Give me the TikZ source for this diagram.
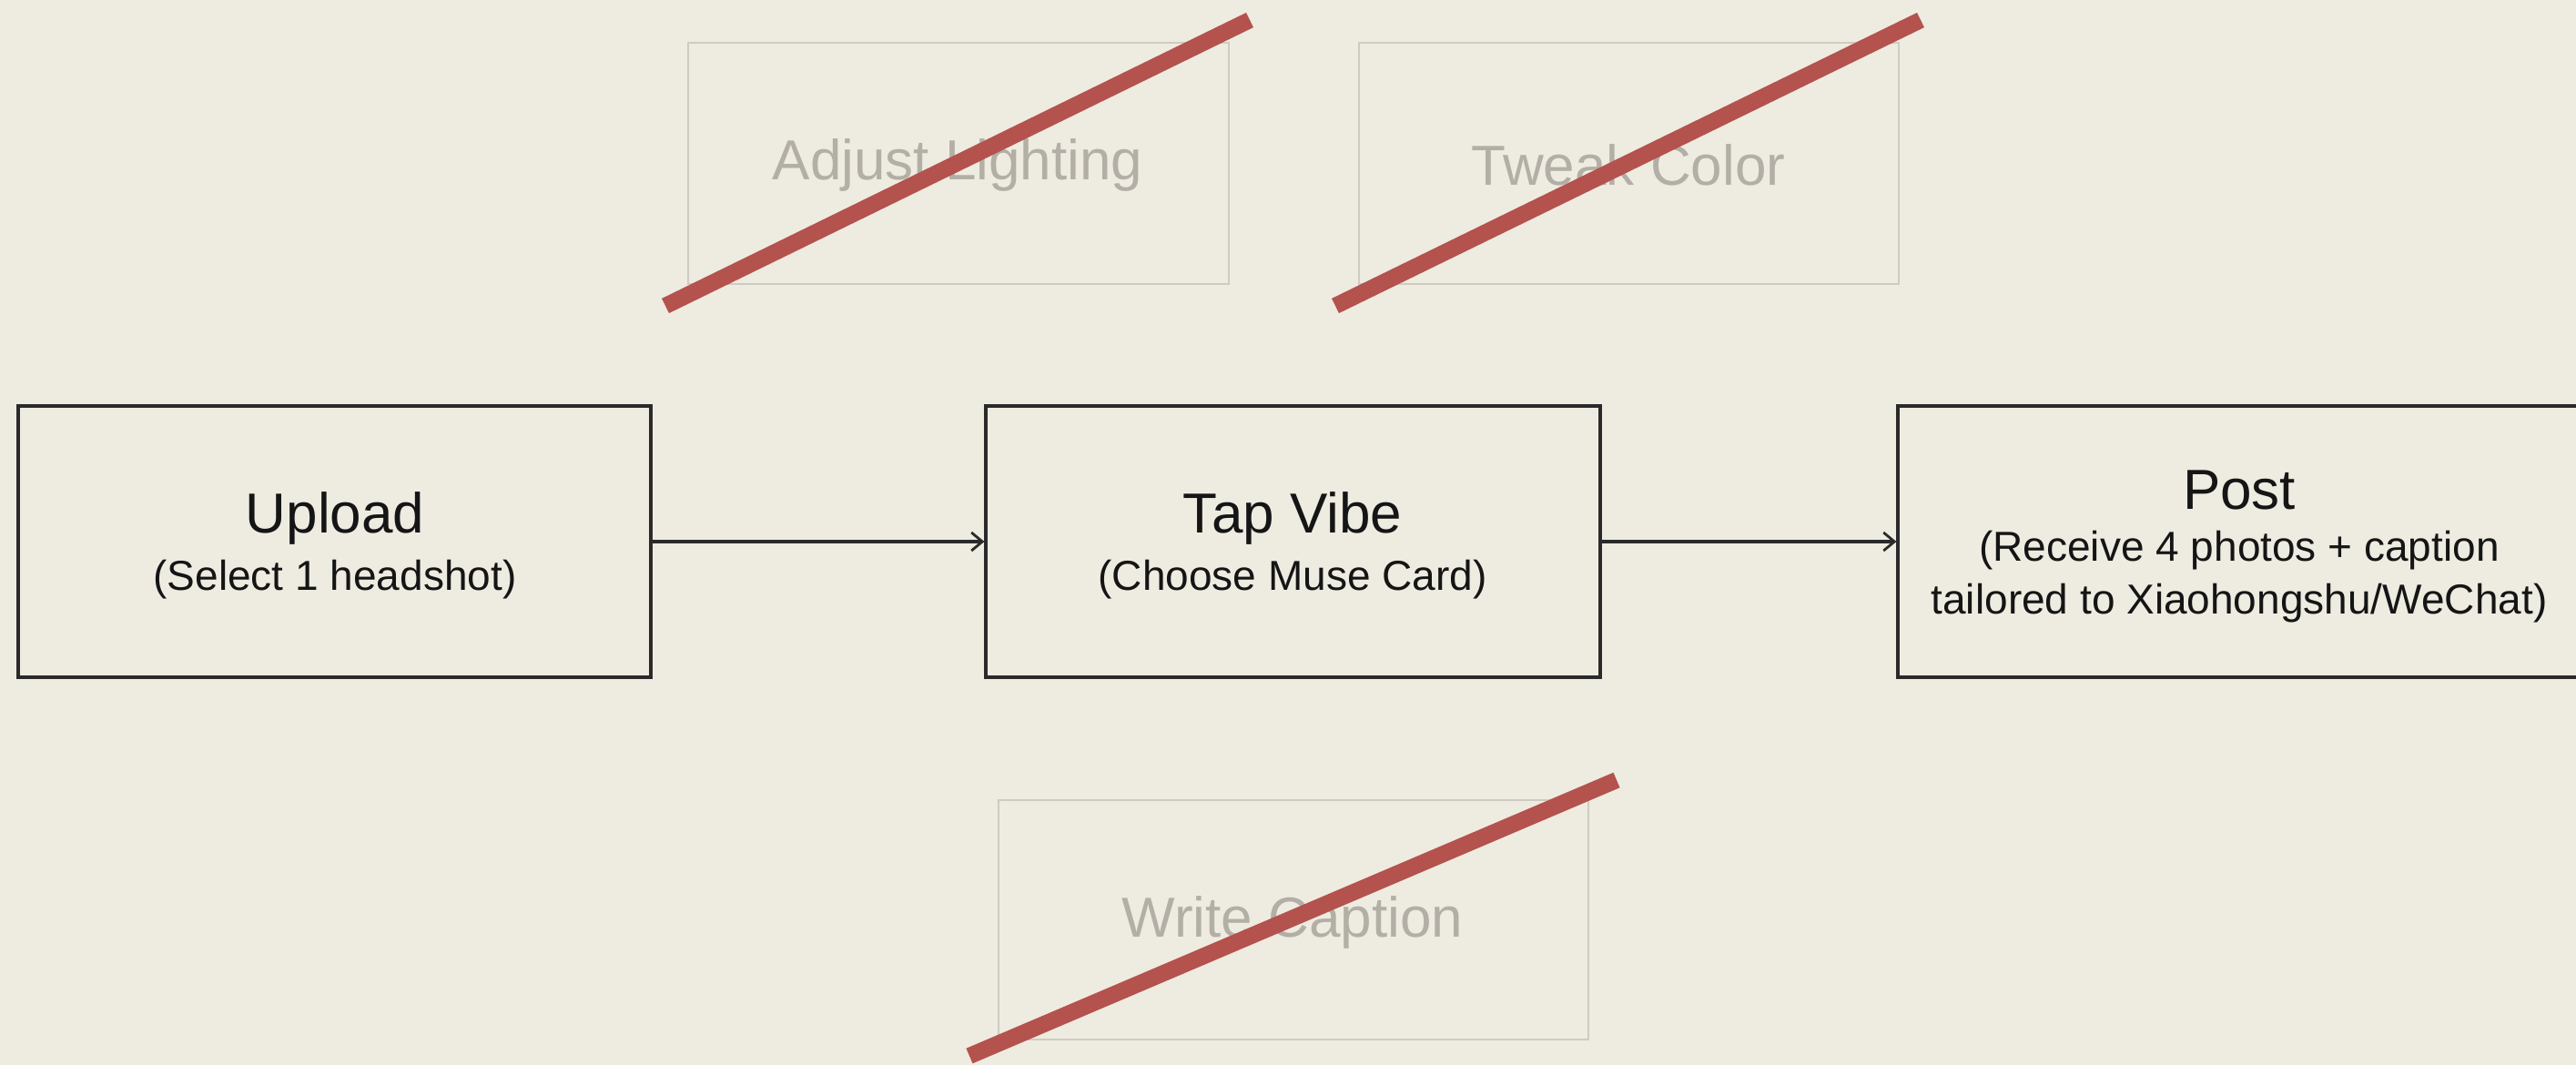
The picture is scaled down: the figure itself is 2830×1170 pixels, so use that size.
\documentclass[tikz,border=0pt]{standalone}
\usepackage{fontspec}
\setmainfont{Liberation Sans}
\usetikzlibrary{arrows.meta}
\definecolor{bg}{HTML}{EEEBE1}
\definecolor{ink}{HTML}{2A2A2A}
\definecolor{txt}{HTML}{151515}
\definecolor{ghostline}{HTML}{CFCBC1}
\definecolor{ghosttext}{HTML}{B3AFA6}
\definecolor{slash}{HTML}{B4524D}
\tikzset{
  stepbox/.style={draw=ink, line width=1.6pt, inner sep=0pt},
  ghostbox/.style={draw=ghostline, line width=1.2pt, inner sep=0pt},
  maintext/.style={font=\fontsize{31pt}{36pt}\selectfont, text=txt, inner sep=0pt},
  subtext/.style={font=\fontsize{23pt}{29pt}\selectfont, text=txt, inner sep=0pt, align=center},
  ghosttxt/.style={font=\fontsize{31pt}{36pt}\selectfont, text=ghosttext, inner sep=0pt},
  flow/.style={draw=ink, line width=1.6pt, -{Straight Barb[length=6pt,width=10pt,line width=1.4pt]}},
  cross/.style={draw=slash, line width=9pt},
}
\begin{document}
\begin{tikzpicture}[x=0.5pt,y=-0.5pt]
\fill[bg] (0,0) rectangle (2830,1170);
\useasboundingbox (0,0) rectangle (2830,1170);
\clip (0,0) rectangle (2830,1170);

% ghost boxes
\node[ghostbox, minimum width=297pt, minimum height=132.5pt] (adjbox) at (1053,179.5) {};
\node[ghosttxt] (adj) at (1052,181) {Adjust Lighting};
\node[ghostbox, minimum width=296.5pt, minimum height=132.5pt] (tweakbox) at (1789.5,179.5) {};
\node[ghosttxt] (tweak) at (1789,181) {Tweak Color};
\node[ghostbox, minimum width=324pt, minimum height=131.5pt] (writebox) at (1421,1010.5) {};
\node[ghosttxt] (write) at (1420,1013) {Write Caption};

% main boxes
\node[stepbox, minimum width=347.5pt, minimum height=149pt] (upload) at (367.5,595) {};
\node[stepbox, minimum width=337.5pt, minimum height=149pt] (tap) at (1420.5,595) {};
\node[stepbox, minimum width=376.5pt, minimum height=149pt] (post) at (2461.5,595) {};

\node[maintext] (uptitle) at (368,569) {Upload};
\node[subtext] (upsub) at (368,637) {(Select 1 headshot)};
\node[maintext] (taptitle) at (1420,569) {Tap Vibe};
\node[subtext] (tapsub) at (1420,637) {(Choose Muse Card)};
\node[maintext] (posttitle) at (2460,538) {Post};
\node[subtext] (postsub) at (2460,634) {(Receive 4 photos + caption\\tailored to Xiaohongshu/WeChat)};

% connectors
\draw[flow] (upload.east) -- (tap.west);
\draw[flow] (tap.east) -- (post.west);

% slashes
\coordinate (s1a) at (731,336); \coordinate (s1b) at (1373,22);
\coordinate (s2a) at (1467,336); \coordinate (s2b) at (2110,22);
\coordinate (s3a) at (1065,1160); \coordinate (s3b) at (1776,857);
\draw[cross] (s1a) -- (s1b);
\draw[cross] (s2a) -- (s2b);
\draw[cross] (s3a) -- (s3b);
\end{tikzpicture}
\end{document}
